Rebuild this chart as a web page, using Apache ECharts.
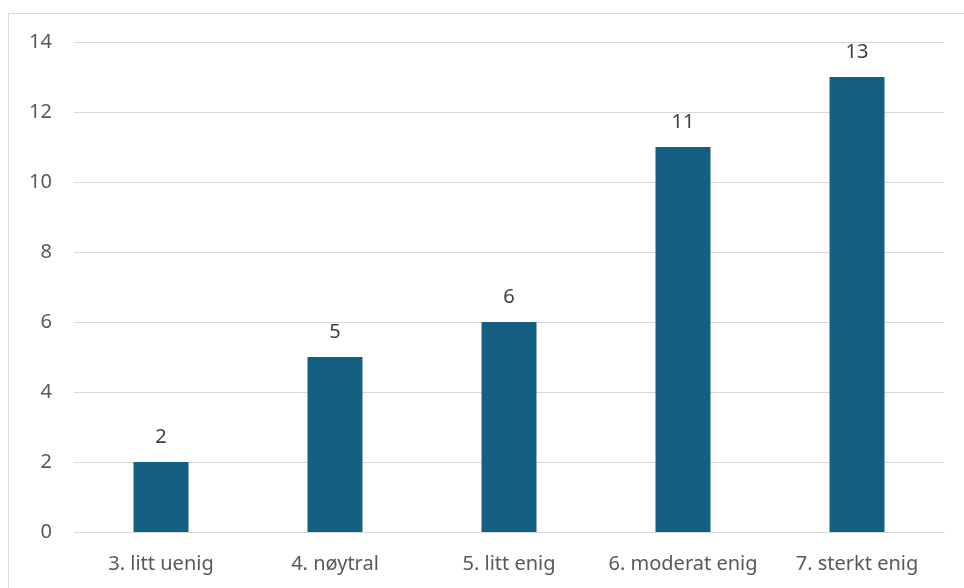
<!DOCTYPE html>
<html><head><meta charset="utf-8">
<script src="https://cdn.jsdelivr.net/npm/echarts@6/dist/echarts.min.js"></script>
<style>html,body{margin:0;padding:0;background:#fff}#c{width:964px;height:588px}</style>
</head><body><div id="c"></div>
<script>
var categories = ['3. litt uenig', '4. nøytral', '5. litt enig', '6. moderat enig', '7. sterkt enig'];
var values = [2, 5, 6, 11, 13];
var yTicks = {min: 0, max: 14, interval: 2};

var chart = echarts.init(document.getElementById('c'), null, {renderer: 'canvas'});
var font = 'Noto Sans';
chart.setOption({
  animation: false,
  backgroundColor: '#fff',
  graphic: [{type: 'rect', shape: {x: 8.5, y: 13.5, width: 970, height: 600}, style: {fill: 'none', stroke: '#d9d9d9', lineWidth: 1}, silent: true}],
  grid: {left: 74, right: 20, top: 42, bottom: 56, containLabel: false},
  xAxis: {
    type: 'category', data: categories,
    axisLine: {lineStyle: {color: '#d9d9d9', width: 1}},
    axisTick: {show: false},
    axisLabel: {color: '#595959', fontSize: 20, fontFamily: font, margin: 22, interval: 0, hideOverlap: false}
  },
  yAxis: {
    type: 'value', min: yTicks.min, max: yTicks.max, interval: yTicks.interval,
    axisLine: {show: false}, axisTick: {show: false},
    splitLine: {lineStyle: {color: '#d9d9d9', width: 1}},
    axisLabel: {color: '#595959', fontSize: 20, fontFamily: font, margin: 22}
  },
  series: [{
    type: 'bar', data: values, barWidth: 55,
    itemStyle: {color: '#156082'},
    label: {show: true, position: 'top', distance: 15, color: '#404040', fontSize: 20, fontFamily: font}
  }]
});
</script></body></html>
